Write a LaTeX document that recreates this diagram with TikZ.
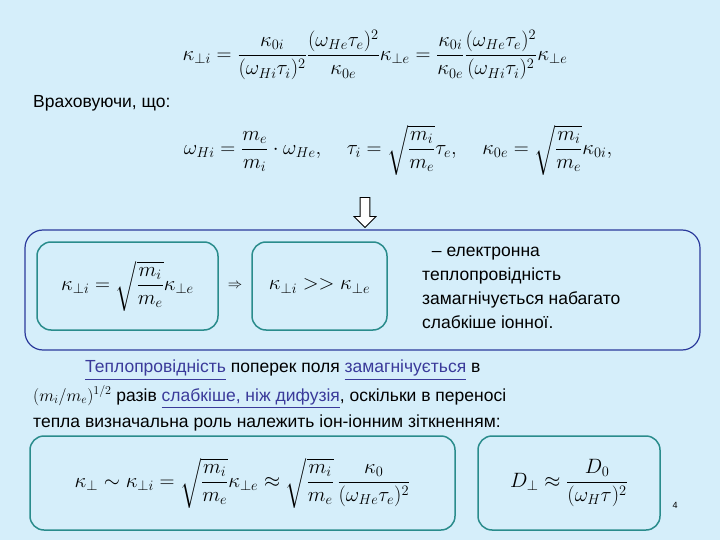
\documentclass[tikz,border=0pt]{standalone}
\usepackage{fontspec}
\setmainfont{Liberation Sans}
\usepackage{amsmath}
\usetikzlibrary{shapes.arrows}
\definecolor{bg}{HTML}{D5EEFA}
\definecolor{teal}{HTML}{2A8C8C}
\definecolor{dblue}{HTML}{2B3A9C}
\definecolor{lnk}{HTML}{3A3A9A}
\newcommand{\lk}[1]{\textcolor{lnk}{\underline{#1}}}
\newcommand{\txtsize}{\fontsize{17.5pt}{24pt}\selectfont}
\newcommand{\eqsize}{\fontsize{22pt}{26pt}\selectfont}
\tikzset{ibox/.style={draw=teal,line width=1.5pt,rounded corners=14pt},
 obox/.style={draw=dblue,line width=1.2pt,rounded corners=18pt},
 txt/.style={inner sep=0pt,font=\txtsize},
 eq/.style={inner sep=0pt,font=\eqsize}}
\begin{document}
\begin{tikzpicture}[x=1pt,y=-1pt]
\fill[bg] (0,0) rectangle (720,540);
\node[eq] (e1) at (375,55) {$\kappa_{\perp i}=\dfrac{\kappa_{0i}}{(\omega_{Hi}\tau_i)^2}\dfrac{(\omega_{He}\tau_e)^2}{\kappa_{0e}}\kappa_{\perp e}=\dfrac{\kappa_{0i}}{\kappa_{0e}}\dfrac{(\omega_{He}\tau_e)^2}{(\omega_{Hi}\tau_i)^2}\kappa_{\perp e}$};
\node[txt,anchor=west] (t1) at (33,103) {Враховуючи, що:};
\node[eq] (e2) at (398,150) {$\omega_{Hi}=\dfrac{m_e}{m_i}\cdot\omega_{He},\quad \tau_i=\sqrt{\dfrac{m_i}{m_e}}\tau_e,\quad \kappa_{0e}=\sqrt{\dfrac{m_i}{m_e}}\kappa_{0i},$};
\node[draw,thick,fill=white,single arrow,shape border rotate=270,minimum width=22pt,single arrow head extend=3pt,minimum height=30pt,inner sep=2pt] (ar) at (365,210) {};
\draw[obox] (25,230) rectangle (700,350);
\node[ibox,minimum width=181pt,minimum height=88pt] (b1) at (127.5,286) {};
\node[eq] (f1) at (b1) {$\kappa_{\perp i}=\sqrt{\dfrac{m_i}{m_e}}\kappa_{\perp e}$};
\node[ibox,minimum width=135pt,minimum height=88pt] (b2) at (319.5,286) {};
\node[eq] (f2) at (b2) {$\kappa_{\perp i}>>\kappa_{\perp e}$};
\node[inner sep=0pt,font=\Large] (im) at (235,286) {$\Rightarrow$};
\node[txt,anchor=north west,align=left] (t2) at (422,247) {\ \ – електронна\\теплопровідність\\замагнічується набагато\\слабкіше іонної.};
\node[txt,anchor=west] (p1) at (85,370) {\lk{Теплопровідність} поперек поля \lk{замагнічується} в};
\node[txt,anchor=west] (p2) at (33,397) {$(m_i/m_e)^{1/2}$ разів \lk{слабкіше, ніж дифузія}, оскільки в переносі};
\node[txt,anchor=west] (p3) at (33,423) {тепла визначальна роль належить іон-іонним зіткненням:};
\node[ibox,minimum width=425pt,minimum height=94pt] (b3) at (242.5,483) {};
\node[eq] (f3) at (b3) {$\kappa_\perp\sim\kappa_{\perp i}=\sqrt{\dfrac{m_i}{m_e}}\kappa_{\perp e}\approx\sqrt{\dfrac{m_i}{m_e}}\,\dfrac{\kappa_0}{(\omega_{He}\tau_e)^2}$};
\node[ibox,minimum width=182pt,minimum height=94pt] (b4) at (569,483) {};
\node[eq] (f4) at (b4) {$D_\perp\approx\dfrac{D_0}{(\omega_H\tau)^2}$};
\node[inner sep=0pt,font=\small] (pg) at (675,505) {4};
\end{tikzpicture}
\end{document}
